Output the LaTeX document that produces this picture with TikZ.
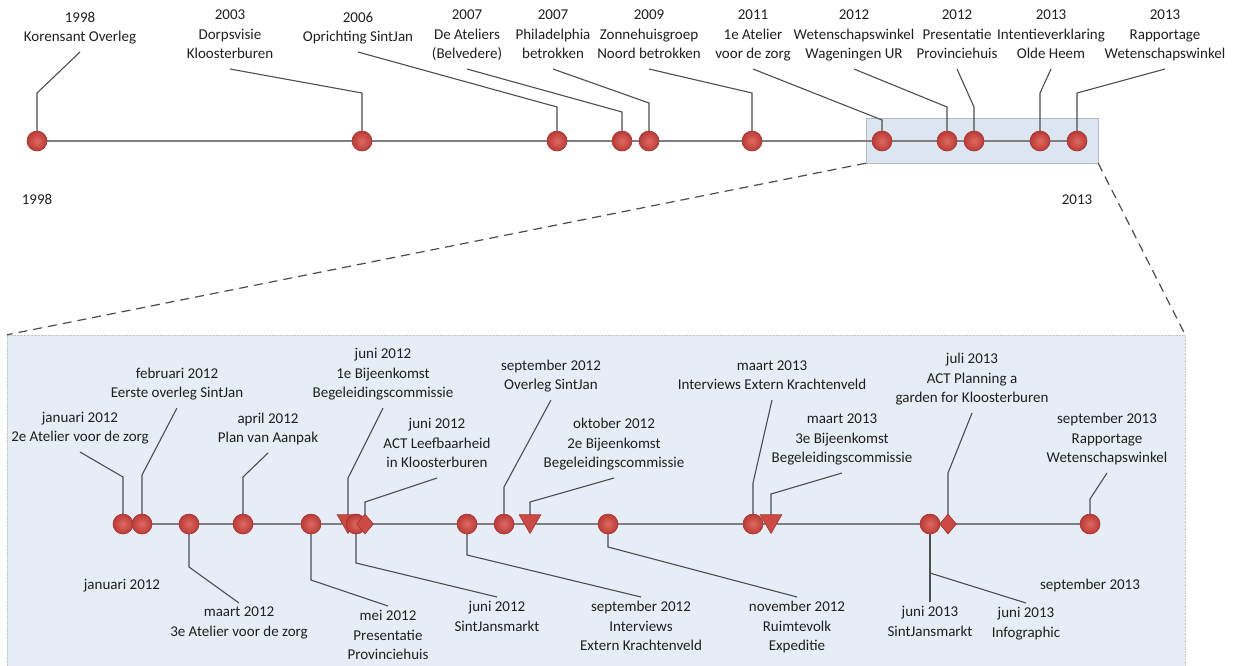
\documentclass[tikz,border=0pt]{standalone}
\usepackage{fontspec}
\setmainfont{Carlito}
\usetikzlibrary{shapes.geometric}
\pgfdeclarelayer{back}
\pgfdeclarelayer{lines}
\pgfsetlayers{back,lines,main}
\definecolor{evfill}{HTML}{CD4A44}
\definecolor{evlight}{HTML}{DE6A62}
\definecolor{evdark}{HTML}{BC3A35}
\definecolor{evline}{HTML}{A0332E}
\definecolor{axisc}{HTML}{7F7F7F}
\definecolor{leadc}{HTML}{4D4D4D}
\definecolor{txt}{HTML}{1F1F1F}
\definecolor{zoomfill}{HTML}{DCE6F2}
\definecolor{boxfill}{HTML}{E7EDF6}
\begin{document}
\begin{tikzpicture}[x=1pt,y=-1pt,
 ev/.style={circle, minimum size=20pt, inner sep=0pt, inner color=evlight, outer color=evdark, draw=evline, line width=0.6pt},
 tri/.style={regular polygon, regular polygon sides=3, shape border rotate=180, minimum size=25pt, inner sep=0pt, fill=evfill, draw=evline, line width=0.6pt, yshift=3pt},
 dia/.style={diamond, minimum width=17pt, minimum height=20pt, inner sep=0pt, fill=evfill, draw=evline, line width=0.6pt},
 lab/.style={align=center, text=txt, font=\fontsize{15}{19.5}\selectfont, inner xsep=0pt, inner ysep=4pt, execute at begin node=\strut, execute at end node=\strut},
 axisline/.style={draw=axisc, line width=1.5pt},
 lead/.style={draw=leadc, line width=1.1pt},
 zoomdash/.style={draw=black!70, dash pattern=on 9pt off 6pt, line width=1.2pt}]
\useasboundingbox (0,0) rectangle (1236,665);

% ---------- backgrounds ----------
\begin{pgfonlayer}{back}
\node[draw=gray!45, densely dotted, fill=boxfill, minimum width=1178pt, minimum height=345pt, inner sep=0pt] (bigbox) at (596,507.5) {};
\node[draw=gray!55, fill=zoomfill, minimum width=232pt, minimum height=45pt, inner sep=0pt] (zr) at (982,140.5) {};
\draw[zoomdash] (zr.south west) -- (bigbox.north west);
\draw[zoomdash] (zr.south east) -- (bigbox.north east);
\end{pgfonlayer}

% ---------- top timeline ----------
\node[ev] (t1) at (37,141) {};
\node[ev] (t2) at (362,141) {};
\node[ev] (t3) at (557,141) {};
\node[ev] (t4) at (622,141) {};
\node[ev] (t5) at (649,141) {};
\node[ev] (t6) at (752,141) {};
\node[ev] (t7) at (882,141) {};
\node[ev] (t8) at (947,141) {};
\node[ev] (t9) at (974,141) {};
\node[ev] (t10) at (1040,141) {};
\node[ev] (t11) at (1077,141) {};

\node[lab, anchor=south] (tl1) at (80,52) {1998\\Korensant Overleg};
\node[lab, anchor=south] (tl2) at (230,69) {2003\\Dorpsvisie\\Kloosterburen};
\node[lab, anchor=south] (tl3) at (358,52) {2006\\Oprichting SintJan};
\node[lab, anchor=south] (tl4) at (467,69) {2007\\De Ateliers\\(Belvedere)};
\node[lab, anchor=south] (tl5) at (553,69) {2007\\Philadelphia\\betrokken};
\node[lab, anchor=south] (tl6) at (649,69) {2009\\Zonnehuisgroep\\Noord betrokken};
\node[lab, anchor=south] (tl7) at (753,69) {2011\\1e Atelier\\voor de zorg};
\node[lab, anchor=south] (tl8) at (854,69) {2012\\Wetenschapswinkel\\Wageningen UR};
\node[lab, anchor=south] (tl9) at (957,69) {2012\\Presentatie\\Provinciehuis};
\node[lab, anchor=south] (tl10) at (1051,69) {2013\\Intentieverklaring\\Olde Heem};
\node[lab, anchor=south] (tl11) at (1165,69) {2013\\Rapportage\\Wetenschapswinkel};

\node[lab] (ax1) at (37,201) {1998};
\node[lab] (ax2) at (1077,201) {2013};

% ---------- bottom timeline ----------
\node[ev] (b1) at (123,524) {};
\node[ev] (b2) at (142,524) {};
\node[ev] (b3) at (189,524) {};
\node[ev] (b4) at (243,524) {};
\node[ev] (b5) at (311,524) {};
\node[tri] (b6) at (348,524) {};
\node[ev] (b7) at (356,524) {};
\node[dia] (b8) at (365,524) {};
\node[ev] (b9) at (467,524) {};
\node[ev] (b10) at (504,524) {};
\node[tri] (b11) at (530,524) {};
\node[ev] (b12) at (608,524) {};
\node[ev] (b13) at (753,524) {};
\node[tri] (b14) at (771,524) {};
\node[ev] (b15) at (930,524) {};
\node[dia] (b16) at (948,524) {};
\node[ev] (b17) at (1090,524) {};

\node[lab, anchor=south] (bl1) at (80,452) {januari 2012\\2e Atelier voor de zorg};
\node[lab, anchor=south] (bl2) at (177,408) {februari 2012\\Eerste overleg SintJan};
\node[lab, anchor=south] (bl4) at (268,453) {april 2012\\Plan van Aanpak};
\node[lab, anchor=south] (bl6) at (383,408) {juni 2012\\1e Bijeenkomst\\Begeleidingscommissie};
\node[lab, anchor=south] (bl8) at (437,478) {juni 2012\\ACT Leefbaarheid\\in Kloosterburen};
\node[lab, anchor=south] (bl10) at (551,400) {september 2012\\Overleg SintJan};
\node[lab, anchor=south] (bl11) at (614,478) {oktober 2012\\2e Bijeenkomst\\Begeleidingscommissie};
\node[lab, anchor=south] (bl13) at (772,400) {maart 2013\\Interviews Extern Krachtenveld};
\node[lab, anchor=south] (bl14) at (842,473) {maart 2013\\3e Bijeenkomst\\Begeleidingscommissie};
\node[lab, anchor=south] (bl16) at (972,413) {juli 2013\\ACT Planning a\\garden for Kloosterburen};
\node[lab, anchor=south] (bl17) at (1107,473) {september 2013\\Rapportage\\Wetenschapswinkel};

\node[lab, anchor=north] (bb3) at (239,603) {maart 2012\\3e Atelier voor de zorg};
\node[lab, anchor=north] (bb5) at (388,606) {mei 2012\\Presentatie\\Provinciehuis};
\node[lab, anchor=north] (bb7) at (497,597) {juni 2012\\SintJansmarkt};
\node[lab, anchor=north] (bb9) at (641,597) {september 2012\\Interviews\\Extern Krachtenveld};
\node[lab, anchor=north] (bb12) at (797,597) {november 2012\\Ruimtevolk\\Expeditie};
\node[lab, anchor=north] (bb15a) at (930,602) {juni 2013\\SintJansmarkt};
\node[lab, anchor=north] (bb15b) at (1026,603) {juni 2013\\Infographic};

\node[lab] (jan) at (122,586) {januari 2012};
\node[lab] (sep) at (1090,586) {september 2013};

% ---------- lines ----------
\begin{pgfonlayer}{lines}
\draw[axisline] (t1.center) -- (t11.center);
\draw[axisline] (b1.center) -- (b17.center);
% top leaders
\draw[lead] (t1.center) -- (t1 |- 0,93) -- (tl1.south);
\draw[lead] (t2.center) -- (t2 |- 0,93) -- (tl2.south);
\draw[lead] (t3.center) -- (t3 |- 0,107) -- (tl3.south);
\draw[lead] (t4.center) -- (t4 |- 0,112) -- (tl4.south);
\draw[lead] (t5.center) -- (t5 |- 0,103) -- (tl5.south);
\draw[lead] (t6.center) -- (t6 |- 0,93) -- (tl6.south);
\draw[lead] (t7.center) -- (t7 |- 0,120) -- (tl7.south);
\draw[lead] (t8.center) -- (t8 |- 0,107) -- (tl8.south);
\draw[lead] (t9.center) -- (t9 |- 0,107) -- (tl9.south);
\draw[lead] (t10.center) -- (t10 |- 0,93) -- (tl10.south);
\draw[lead] (t11.center) -- (t11 |- 0,93) -- (tl11.south);
% bottom leaders above
\draw[lead] (b1.center) -- (b1 |- 0,477) -- (bl1.south);
\draw[lead] (b2.center) -- (b2 |- 0,475) -- (bl2.south);
\draw[lead] (b4.center) -- (b4 |- 0,477) -- (bl4.south);
\draw[lead] (b6.center) -- (b6 |- 0,478) -- (bl6.south);
\draw[lead] (b8.center) -- (b8 |- 0,502) -- (bl8.south);
\draw[lead] (b10.center) -- (b10 |- 0,487) -- (bl10.south);
\draw[lead] (b11.center) -- (b11 |- 0,502) -- (bl11.south);
\draw[lead] (b13.center) -- (b13 |- 0,483) -- (bl13.south);
\draw[lead] (b14.center) -- (b14 |- 0,494) -- (bl14.south);
\draw[lead] (b16.center) -- (b16 |- 0,473) -- (bl16.south);
\draw[lead] (b17.center) -- (b17 |- 0,499) -- (bl17.south);
% bottom leaders below
\draw[lead] (b3.center) -- (b3 |- 0,567) -- (bb3.north);
\draw[lead] (b5.center) -- (b5 |- 0,580) -- (bb5.north);
\draw[lead] (b7.center) -- (b7 |- 0,563) -- (bb7.north);
\draw[lead] (b9.center) -- (b9 |- 0,555) -- (bb9.north);
\draw[lead] (b12.center) -- (b12 |- 0,547) -- (bb12.north);
\draw[lead] (b15.center) -- (bb15a.north);
\draw[lead] (b15.center) -- (b15 |- 0,573) -- (bb15b.north);
\end{pgfonlayer}
\end{tikzpicture}
\end{document}
